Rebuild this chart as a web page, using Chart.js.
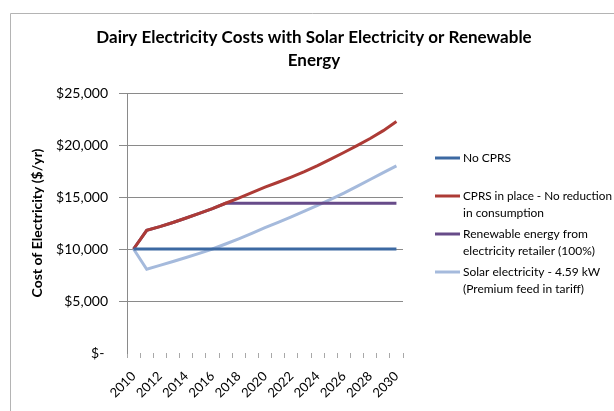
<!DOCTYPE html>
<html><head><meta charset="utf-8">
<script src="https://cdn.jsdelivr.net/npm/chart.js@4/dist/chart.umd.min.js"></script>
<style>html,body{margin:0;padding:0;background:#fff;overflow:hidden}#wrap{width:614px;height:411px;position:relative}</style>
</head><body><div id="wrap"><canvas id="c" width="614" height="411"></canvas></div>
<script>
// ---- data ----
const years = ["2010","2011","2012","2013","2014","2015","2016","2017","2018","2019","2020","2021","2022","2023","2024","2025","2026","2027","2028","2029","2030"];
const noCprs    = [10000,10000,10000,10000,10000,10000,10000,10000,10000,10000,10000,10000,10000,10000,10000,10000,10000,10000,10000,10000,10000];
const cprs      = [10000,11800,12150,12550,12980,13420,13880,14400,14900,15420,15950,16420,16920,17450,18020,18640,19280,19940,20620,21380,22250];
const renewable = [10000,11800,12150,12550,12980,13420,13880,14400,14400,14400,14400,14400,14400,14400,14400,14400,14400,14400,14400,14400,14400];
const solar     = [10000,8050,8420,8800,9180,9580,10000,10480,10980,11500,12050,12570,13100,13640,14200,14780,15380,16020,16680,17340,18000];
const seriesLabels = [
  ["No CPRS"],
  ["CPRS in place - No reduction","in consumption"],
  ["Renewable energy from","electricity retailer (100%)"],
  ["Solar electricity - 4.59 kW","(Premium feed in tariff)"]
];
const yTickValues = [0,5000,10000,15000,20000,25000];
const titleLines = ["Dairy Electricity Costs with Solar Electricity or Renewable","Energy"];
const yAxisTitle = "Cost of Electricity ($/yr)";

// ---- styles ----
const colors = ["#3c69a2","#ad3b36","#674b89","#a5badc"];
const FONT = "Lato, 'Open Sans', sans-serif";

const framePlugin = {
  id: 'frame',
  beforeDraw(chart) {
    const ctx = chart.ctx;
    ctx.save();
    ctx.fillStyle = '#fff';
    ctx.fillRect(0,0,chart.width,chart.height);
    ctx.strokeStyle = '#b4b4b4';
    ctx.lineWidth = 1;
    ctx.beginPath();
    ctx.moveTo(10.5, 411); ctx.lineTo(10.5, 13.5); ctx.lineTo(614, 13.5);
    ctx.stroke();
    // title
    ctx.fillStyle = '#000';
    ctx.font = "bold 17px " + FONT;
    ctx.textAlign = 'center';
    ctx.textBaseline = 'middle';
    titleLines.forEach((t,i) => ctx.fillText(t, 314, 38 + i*23));
    ctx.restore();
  }
};

const legendPlugin = {
  id: 'sideLegend',
  afterDraw(chart) {
    const ctx = chart.ctx;
    ctx.save();
    ctx.font = "12px " + FONT;
    ctx.textBaseline = 'middle';
    ctx.textAlign = 'left';
    chart.data.datasets.forEach((ds, i) => {
      const y0 = 158 + i*38;
      ctx.strokeStyle = ds.borderColor;
      ctx.lineWidth = 3;
      ctx.beginPath();
      ctx.moveTo(435, y0); ctx.lineTo(460, y0);
      ctx.stroke();
      ctx.fillStyle = '#000';
      seriesLabels[i].forEach((line, j) => ctx.fillText(line, 463, y0 + j*17.5, 149));
    });
    ctx.restore();
  }
};

const mk = (data, i) => ({
  label: seriesLabels[i].join(' '),
  data, borderColor: colors[i], backgroundColor: colors[i],
  borderWidth: 3, pointRadius: 0, tension: 0, fill: false
});

new Chart(document.getElementById('c'), {
  type: 'line',
  data: { labels: years, datasets: [mk(noCprs,0), mk(cprs,1), mk(renewable,2), mk(solar,3)] },
  options: {
    responsive: false, animation: false, devicePixelRatio: 1,
    layout: { padding: { left: 20, right: 211, top: 93, bottom: 0 } },
    plugins: { legend: { display: false }, title: { display: false }, tooltip: { enabled: false } },
    scales: {
      x: {
        type: 'category', offset: true,
        grid: { offset: true, drawOnChartArea: false, drawTicks: true, tickLength: 5, color: '#a8a8a8' },
        border: { display: false },
        ticks: {
          autoSkip: false, maxRotation: 45, minRotation: 45, padding: 10.5,
          color: '#000', font: { family: FONT, size: 13 },
          callback: (v, i) => (i % 2 === 0 ? years[i] : '')
        },
        afterFit: s => { s.height = 58; }
      },
      y: {
        min: 0, max: 25000,
        afterBuildTicks: s => { s.ticks = yTickValues.map(v => ({ value: v })); },
        grid: {
          color: c => (c.tick && c.tick.value === 0 ? 'rgba(0,0,0,0)' : '#8a8a8a'),
          tickLength: 8
        },
        border: { display: true, color: '#8a8a8a' },
        ticks: {
          padding: 11, color: '#000', font: { family: FONT, size: 14 },
          callback: v => (v === 0 ? '$- ' : '$' + v.toLocaleString('en-US'))
        },
        title: { display: true, text: yAxisTitle, color: '#000', font: { family: FONT, size: 14, weight: 'bold' }, padding: { top: 9, bottom: 0 } },
        afterFit: s => { s.width = 107; }
      }
    }
  },
  plugins: [framePlugin, legendPlugin]
});
</script>
</body></html>
